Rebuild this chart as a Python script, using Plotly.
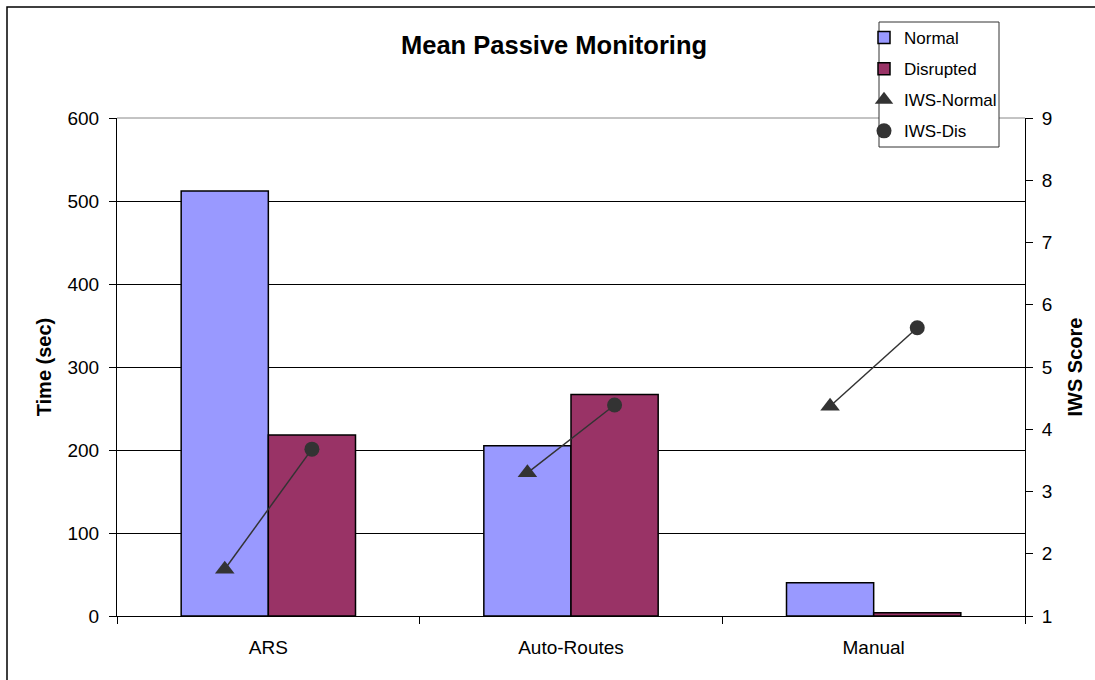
import plotly.graph_objects as go

categories = ["ARS", "Auto-Routes", "Manual"]
normal_time = [512, 205, 40]
disrupted_time = [218, 267, 4]
iws_normal = [1.75, 3.30, 4.37]
iws_dis = [3.68, 4.39, 5.63]

BAR_W = 0.288
idx = list(range(len(categories)))
x_norm = [i - BAR_W / 2 for i in idx]
x_dis = [i + BAR_W / 2 for i in idx]

FONT = "Liberation Sans, Arial, sans-serif"
MARK = "#333333"

fig = go.Figure()
fig.add_trace(go.Bar(x=idx, y=normal_time, width=BAR_W, offset=-BAR_W, name="Normal",
                     marker=dict(color="#9999FF", line=dict(color="black", width=1.5)),
                     legendgroup="a"))
fig.add_trace(go.Bar(x=idx, y=disrupted_time, width=BAR_W, offset=0, name="Disrupted",
                     marker=dict(color="#993366", line=dict(color="black", width=1.5)),
                     legendgroup="b"))
for i in idx:
    fig.add_trace(go.Scatter(x=[x_norm[i], x_dis[i]], y=[iws_normal[i], iws_dis[i]],
                             mode="lines", line=dict(color=MARK, width=1.5),
                             yaxis="y2", showlegend=False, hoverinfo="skip"))
fig.add_trace(go.Scatter(x=x_norm, y=iws_normal, mode="markers", name="IWS-Normal",
                         marker=dict(symbol="triangle-up", size=17, color=MARK),
                         yaxis="y2", legendgroup="c"))
fig.add_trace(go.Scatter(x=x_dis, y=iws_dis, mode="markers", name="IWS-Dis",
                         marker=dict(symbol="circle", size=15, color=MARK),
                         yaxis="y2", legendgroup="d"))

L, R, T, B = 117, 70, 118, 64
W, H = 1095, 680
pw, ph = W - L - R, H - T - B

def px(xp):
    return (xp - L) / pw

def py(yp):
    return 1 + (T - yp) / ph

fig.update_layout(
    width=W, height=H,
    margin=dict(l=L, r=R, t=T, b=B),
    paper_bgcolor="white", plot_bgcolor="white",
    font=dict(family=FONT, size=19, color="black"),
    barmode="overlay",
    showlegend=True,
    legend=dict(x=px(864), y=py(20), xanchor="left", yanchor="top",
                bgcolor="rgba(0,0,0,0)", borderwidth=0,
                font=dict(size=17, family=FONT), tracegroupgap=6,
                itemwidth=30),
    xaxis=dict(range=[-0.5, 2.5], tickmode="array", tickvals=idx, ticktext=categories,
               ticks="", showgrid=False, zeroline=False,
               showline=True, linecolor="black", linewidth=1,
               tickfont=dict(size=19), ticklabelstandoff=14,
               minor=dict(tickmode="array", tickvals=[-0.5, 0.5, 1.5, 2.5],
                          ticks="outside", ticklen=7, tickcolor="black", showgrid=False)),
    yaxis=dict(range=[0, 600], dtick=100, ticks="outside", ticklen=7, tickcolor="black",
               showgrid=True, gridcolor="black", gridwidth=1, zeroline=False,
               showline=True, linecolor="black", linewidth=1, mirror=False,
               ticklabelstandoff=6,
               title=dict(text="<b>Time (sec)</b>", font=dict(size=20), standoff=10),
               tickfont=dict(size=19)),
    yaxis2=dict(range=[1, 9], dtick=1, overlaying="y", side="right",
                ticks="outside", ticklen=7, tickcolor="black",
                showgrid=False, zeroline=False,
                showline=True, linecolor="black", linewidth=1,
                ticklabelstandoff=5,
                title=dict(text="<b>IWS Score</b>", font=dict(size=20), standoff=16),
                tickfont=dict(size=19)),
    annotations=[dict(text="<b>Mean Passive Monitoring</b>", x=px(554), y=py(45),
                      xref="paper", yref="paper", showarrow=False,
                      font=dict(size=25.5, family=FONT), xanchor="center", yanchor="middle")],
    shapes=[
        dict(type="line", xref="paper", yref="paper", x0=0, x1=1, y0=1, y1=1,
             line=dict(color="#888888", width=1)),
        dict(type="rect", xref="paper", yref="paper", x0=px(7), y0=py(700),
             x1=px(1110), y1=py(7), line=dict(color="black", width=1.5),
             fillcolor="rgba(0,0,0,0)", layer="below"),
        dict(type="rect", xref="paper", yref="paper", x0=px(879), y0=py(147),
             x1=px(999), y1=py(22), line=dict(color="#333333", width=1),
             fillcolor="white", layer="above"),
    ],
)

fig.write_html("out.html", config={"displayModeBar": False},
               post_script="document.body.style.margin='0';")
